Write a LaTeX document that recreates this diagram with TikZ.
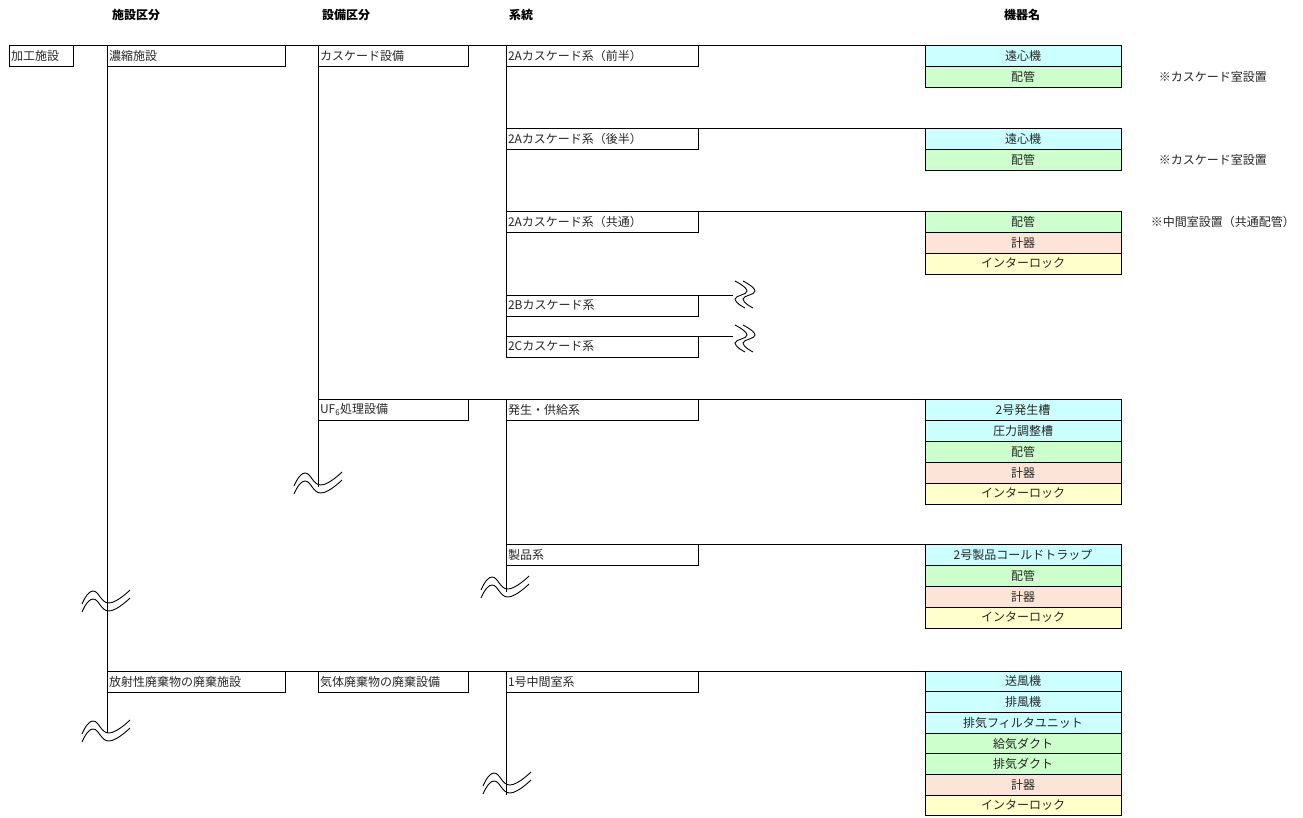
\documentclass[tikz,border=0pt]{standalone}
\usepackage{fontspec}
\setmainfont{Noto Sans CJK JP}
\usetikzlibrary{positioning}

\definecolor{devcyan}{HTML}{CCFFFF}
\definecolor{devgreen}{HTML}{CCFFCC}
\definecolor{devpeach}{HTML}{FCE4D6}
\definecolor{devyellow}{HTML}{FFFFCC}
\newcommand{\cellfont}{\fontsize{12}{14}\selectfont}

\begin{document}
\begin{tikzpicture}[
    x=1pt, y=-1pt,
    line width=0.9pt,
    node distance=0pt,
    every node/.style={font=\cellfont, text=black!85},
    head/.style={font=\cellfont\bfseries, text=black},
    cell/.style={draw, anchor=north west, inner xsep=2pt, inner ysep=0pt, outer sep=0pt, minimum height=21pt, align=left},
    facility/.style={cell, text width=60pt},
    subfac/.style={cell, text width=174pt},
    equipbox/.style={cell, text width=146pt},
    sysbox/.style={cell, text width=188pt},
    devbox/.style={draw, minimum width=196pt, minimum height=21pt, inner sep=0pt, outer sep=0pt},
    machbox/.style={devbox, fill=devcyan},
    pipebox/.style={devbox, fill=devgreen},
    gaugebox/.style={devbox, fill=devpeach},
    lockbox/.style={devbox, fill=devyellow},
    note/.style={anchor=west},
    hwave/.pic={
        \draw plot[smooth, tension=0.8] coordinates {(-24,3) (-13,-10) (3,2) (24,-11)};
        \draw plot[smooth, tension=0.8] coordinates {(-24,11) (-13,-2) (3,10) (24,-3)};
    },
    vwave/.pic={
        \draw plot[smooth, tension=0.8] coordinates {(-11,-13) (1,-3) (-11,5) (-1,14)};
        \draw plot[smooth, tension=0.8] coordinates {(-3,-13) (9,-3) (-3,5) (7,14)};
    }
]
    \useasboundingbox (0,0) rectangle (1303,818);

    % Column heads
    \node[head] (hfac) at (136,15) {施設区分};
    \node[head] (hequip) at (346,15) {設備区分};
    \node[head] (hsys) at (521,15) {系統};
    \node[head] (hdev) at (1022,15) {機器名};

    % Facilities and equipment
    \node[facility] (kako) at (9,45) {加工施設};
    \node[subfac] (nosyuku) at (107,45) {濃縮施設};
    \node[subfac] (hosha) at (107,671) {放射性廃棄物の廃棄施設};
    \node[equipbox] (cascade) at (318,45) {カスケード設備};
    \node[equipbox] (uf6) at (318,399) {UF\textsubscript{6}処理設備};
    \node[equipbox] (gas) at (318,671) {気体廃棄物の廃棄設備};

    % Systems
    \node[sysbox] (c2Aa) at (506,45) {2Aカスケード系（前半）};
    \node[sysbox] (c2Ab) at (506,128) {2Aカスケード系（後半）};
    \node[sysbox] (c2Ac) at (506,211) {2Aカスケード系（共通）};
    \node[sysbox] (c2B) at (506,295) {2Bカスケード系};
    \node[sysbox] (c2C) at (506,336) {2Cカスケード系};
    \node[sysbox] (hassei) at (506,399) {発生・供給系};
    \node[sysbox] (seihin) at (506,544) {製品系};
    \node[sysbox] (chukan) at (506,671) {1号中間室系};

    % Devices
    \node[machbox, anchor=north west] (enA) at (925,45) {遠心機};
    \node[pipebox, below=of enA] (pipeA) {配管};

    \node[machbox, anchor=north west] (enB) at (925,128) {遠心機};
    \node[pipebox, below=of enB] (pipeB) {配管};

    \node[pipebox, anchor=north west] (pipeC) at (925,211) {配管};
    \node[gaugebox, below=of pipeC] (gaugeC) {計器};
    \node[lockbox, below=of gaugeC] (lockC) {インターロック};

    \node[machbox, anchor=north west] (gen) at (925,399) {2号発生槽};
    \node[machbox, below=of gen] (press) {圧力調整槽};
    \node[pipebox, below=of press] (pipeD) {配管};
    \node[gaugebox, below=of pipeD] (gaugeD) {計器};
    \node[lockbox, below=of gaugeD] (lockD) {インターロック};

    \node[machbox, anchor=north west] (cold) at (925,544) {2号製品コールドトラップ};
    \node[pipebox, below=of cold] (pipeE) {配管};
    \node[gaugebox, below=of pipeE] (gaugeE) {計器};
    \node[lockbox, below=of gaugeE] (lockE) {インターロック};

    \begin{scope}[devbox/.append style={minimum height=20.7pt}]
    \node[machbox, anchor=north west] (fanS) at (925,671) {送風機};
    \node[machbox, below=of fanS] (fanE) {排風機};
    \node[machbox, below=of fanE] (filt) {排気フィルタユニット};
    \node[pipebox, below=of filt] (ductS) {給気ダクト};
    \node[pipebox, below=of ductS] (ductE) {排気ダクト};
    \node[gaugebox, below=of ductE] (gaugeF) {計器};
    \node[lockbox, below=of gaugeF] (lockF) {インターロック};
    \end{scope}

    % Notes
    \node[note] (noteA) at (1155,76.5) {※カスケード室設置};
    \node[note] (noteB) at (1155,159.5) {※カスケード室設置};
    \node[note] (noteC) at (1147,221.5) {※中間室設置（共通配管）};

    % Free line ends
    \coordinate (nosyukuEnd) at (107,733);
    \coordinate (uf6End) at (318,487);
    \coordinate (seihinEnd) at (506,592);
    \coordinate (chukanEnd) at (506,795);
    \coordinate (c2BEnd) at (733,295);
    \coordinate (c2CEnd) at (733,336);

    % Tree lines
    \draw (kako.north west) -- (enA.north east);
    \draw (nosyuku.north west) -- (nosyukuEnd);
    \draw (cascade.north west) -- (uf6End);
    \draw (c2Aa.north west) -- (c2C.south west);
    \draw (c2Ab.north west) -- (enB.north east);
    \draw (c2Ac.north west) -- (pipeC.north east);
    \draw (c2B.north west) -- (c2BEnd);
    \draw (c2C.north west) -- (c2CEnd);
    \draw (uf6.north west) -- (gen.north east);
    \draw (hassei.north west) -- (seihinEnd);
    \draw (seihin.north west) -- (cold.north east);
    \draw (hosha.north west) -- (fanS.north east);
    \draw (chukan.north west) -- (chukanEnd);

    % Omission marks
    \pic at (106,601) {hwave};
    \pic at (106,731) {hwave};
    \pic at (318,483) {hwave};
    \pic at (505,587) {hwave};
    \pic at (507,783) {hwave};
    \pic at (746,294) {vwave};
    \pic at (746,338) {vwave};

\end{tikzpicture}
\end{document}
